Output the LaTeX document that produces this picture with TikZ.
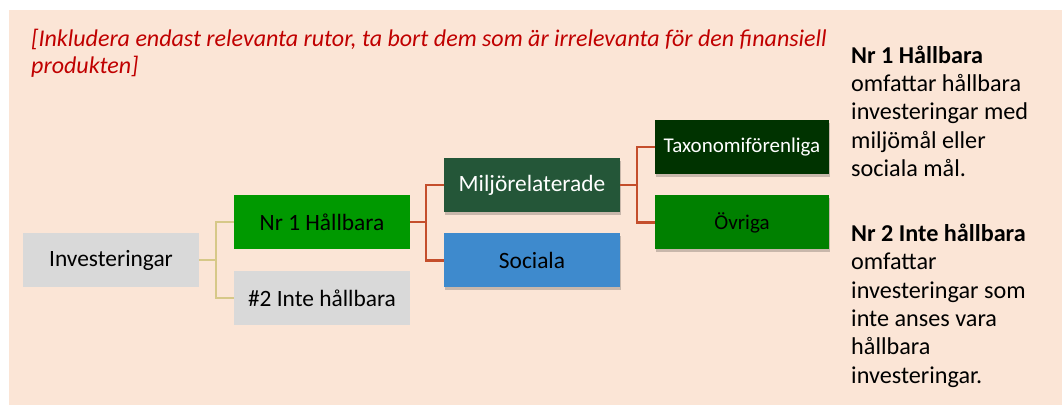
\documentclass[tikz,border=0pt]{standalone}
\usepackage{fontspec}
\setmainfont{Carlito}
\usepackage{tikz}
\newcommand{\boxwidth}{176pt}
\newcommand{\boxheight}{54pt}
\usetikzlibrary{calc,positioning,shadows}
\definecolor{peach}{RGB}{251,229,214}
\definecolor{boxgrey}{RGB}{217,217,217}
\definecolor{nrgreen}{RGB}{0,153,0}
\definecolor{miljogreen}{RGB}{36,86,56}
\definecolor{taxogreen}{RGB}{0,51,0}
\definecolor{ovrigagreen}{RGB}{0,128,0}
\definecolor{socialblue}{RGB}{62,138,205}
\definecolor{tan}{RGB}{214,200,136}
\definecolor{rust}{RGB}{196,78,44}
\definecolor{notered}{RGB}{192,0,0}
\tikzset{
  font=\fontsize{23.4}{28}\selectfont,
  rect/.style={shape=rectangle,minimum width=\boxwidth,minimum height=\boxheight,inner sep=1mm},
  greyrect/.style={rect,fill=boxgrey},
  shadowed/.style={drop shadow={shadow xshift=1pt,shadow yshift=-3pt,opacity=0.2,fill=black}},
  smallrect/.style={rect,shadowed,minimum width=174pt,font=\fontsize{21}{25}\selectfont},
  tanline/.style={draw=tan,line width=2pt},
  rustline/.style={draw=rust,line width=2.5pt}
}
\begin{document}
\begin{tikzpicture}[x=1pt,y=-1pt]
    \useasboundingbox (0,0) rectangle (1062,405);
    \fill [peach] (9,10) rectangle (1062,405);

    \node (note) [anchor=base west,align=left,inner sep=0,text=notered,font=\fontsize{24}{26.7}\selectfont\itshape] at (31,73)
      {[Inkludera endast relevanta rutor, ta bort dem som är irrelevanta för den finansiell\\produkten]};

    \node (invest) [greyrect] at (111,260) {Investeringar};
    \node (nr1) [rect,fill=nrgreen] at (322,222) {Nr 1 Hållbara};
    \node (nr2) [greyrect,below=22pt of nr1] {\#2 Inte hållbara};
    \node (miljo) [rect,shadowed,fill=miljogreen,text=white] at (532,185) {Miljörelaterade};
    \node (sociala) [rect,shadowed,fill=socialblue,below=21pt of miljo] {Sociala};
    \node (taxo) [smallrect,fill=taxogreen,text=white] at (742,147) {Taxonomiförenliga};
    \node (ovriga) [smallrect,fill=ovrigagreen,below=21pt of taxo] {Övriga};

    \path [tanline] (invest.east) -- ++(17,0) coordinate (fork1) |- (nr1.west);
    \path [tanline] (fork1) |- (nr2.west);
    \path [rustline] (nr1.east) -- ++(16,0) coordinate (fork2) |- (miljo.west);
    \path [rustline] (fork2) |- (sociala.west);
    \path [rustline] (miljo.east) -- ++(17,0) coordinate (fork3) |- (taxo.west);
    \path [rustline] (fork3) |- (ovriga.west);

    \node (legend) [anchor=base west,align=left,inner sep=0,font=\fontsize{24.2}{28.3}\selectfont] at (851,383) {
      \textbf{Nr 1 Hållbara}\\omfattar hållbara\\investeringar med\\miljömål eller\\sociala mål.\\[36.7pt]
      \textbf{Nr 2 Inte hållbara}\\omfattar\\investeringar som\\inte anses vara\\hållbara\\investeringar.
    };
\end{tikzpicture}
\end{document}
